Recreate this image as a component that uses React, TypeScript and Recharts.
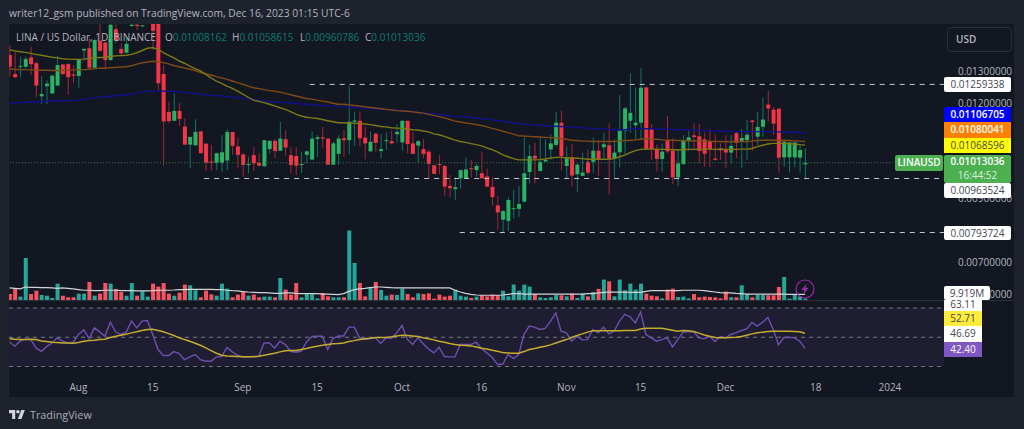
import {Bar, Cell, ComposedChart, Line, ReferenceArea, ReferenceLine, XAxis, YAxis} from "recharts"

// prices are read in hundred-thousandths of a dollar (1352 = 0.01352)
const opens = [
    1352, 1292, 1314, 1315, 1344, 1326, 1222, 1254, 1231, 1256,
    1322, 1323, 1291, 1286, 1366, 1373, 1312, 1397, 1391, 1336,
    1433, 1371, 1359, 1443, 1447, 1442, 1470, 1465, 1465, 1292,
    1173, 1145, 1176, 1127, 1070, 1068, 1112, 1073, 1017, 1013,
    1013, 1020, 1110, 1064, 1039, 1006, 1037, 1013, 1002, 1056,
    1082, 1051, 1087, 1037, 1034, 1006, 1038, 1023, 1088, 1093,
    1089, 1007, 1041, 1090, 1084, 1142, 1145, 1092, 1049, 1104,
    1050, 1082, 1081, 1103, 1077, 1145, 1074, 1067, 1056, 1048,
    1005, 1009, 1003, 940, 930, 964, 965, 996, 990, 980,
    970, 937, 879, 834, 830, 867, 868, 891, 984, 1035,
    987, 1017, 1055, 1069, 1139, 1003, 1030, 977, 972, 1016,
    1016, 1051, 1062, 1068, 1026, 1046, 1114, 1145, 1131, 1139,
    1250, 1119, 1056, 1025, 1083, 1051, 967, 1009, 1081, 1099,
    1096, 1087, 1081, 1026, 1059, 1056, 1045, 1106, 1081, 1084,
    1146, 1095, 1126, 1196, 1180, 1183, 1030, 1030, 1030, 1029,
    1008.162,
]
const closes = [
    1315, 1282, 1317, 1339, 1323, 1256, 1229, 1262, 1287, 1320,
    1292, 1282, 1287, 1339, 1371, 1312, 1399, 1365, 1336, 1447,
    1399, 1357, 1387, 1447, 1443, 1445, 1490, 1428, 1263, 1143,
    1144, 1176, 1151, 1070, 1094, 1110, 1043, 1013, 1013, 1043,
    1046, 1110, 1066, 1038, 1006, 1009, 1011, 1004, 1084, 1082,
    1050, 1089, 1061, 1006, 1004, 1009, 1049, 1089, 1093, 1089,
    1007, 1074, 1089, 1084, 1142, 1146, 1090, 1074, 1079, 1076,
    1056, 1084, 1074, 1110, 1145, 1072, 1041, 1081, 1041, 1009,
    978, 1006, 938, 933, 936, 990, 992, 993, 1003, 964,
    938, 905, 857, 861, 896, 870, 883, 980, 1034, 1026,
    1016, 1022, 1074, 1139, 1034, 1027, 973, 1007, 982, 982,
    1051, 1025, 1071, 1026, 1045, 1114, 1184, 1170, 1139, 1249,
    1055, 1056, 1025, 1048, 1049, 967, 1011, 1084, 1093, 1094,
    1050, 1041, 1055, 1022, 1052, 1045, 1066, 1075, 1091, 1101,
    1141, 1126, 1149, 1184, 1136, 1029, 1079, 1077, 1077, 1053,
    1013.036,
]
const highs = [
    1383, 1362, 1347, 1347, 1378, 1331, 1286, 1273, 1289, 1349,
    1323, 1326, 1320, 1341, 1373, 1404, 1404, 1449, 1392, 1449,
    1449, 1389, 1410, 1449, 1449, 1446, 1500, 1480, 1480, 1320,
    1205, 1231, 1202, 1153, 1095, 1150, 1113, 1074, 1069, 1044,
    1100, 1119, 1110, 1093, 1043, 1032, 1062, 1043, 1085, 1083,
    1087, 1142, 1116, 1062, 1062, 1048, 1051, 1111, 1100, 1125,
    1090, 1079, 1100, 1116, 1254, 1174, 1174, 1126, 1111, 1108,
    1103, 1108, 1114, 1135, 1147, 1145, 1108, 1084, 1087, 1053,
    1006, 1037, 1005, 974, 967, 990, 1029, 1022, 1011, 1047,
    995, 967, 909, 864, 904, 929, 940, 1093, 1069, 1076,
    1093, 1087, 1103, 1174, 1177, 1064, 1072, 1011, 1045, 1055,
    1093, 1084, 1108, 1137, 1087, 1226, 1189, 1294, 1250, 1312,
    1252, 1135, 1071, 1074, 1160, 1090, 1055, 1100, 1113, 1137,
    1135, 1108, 1118, 1102, 1074, 1100, 1100, 1111, 1119, 1149,
    1147, 1174, 1218, 1239, 1189, 1184, 1087, 1079, 1079, 1069,
    1058.615,
]
const lows = [
    1284, 1279, 1282, 1310, 1289, 1219, 1198, 1197, 1229, 1254,
    1289, 1227, 1263, 1247, 1334, 1305, 1311, 1362, 1308, 1334,
    1389, 1347, 1357, 1441, 1431, 1441, 1455, 1368, 1242, 1004,
    1137, 1145, 1129, 1069, 996, 1067, 1043, 987, 990, 990,
    985, 990, 1038, 996, 969, 980, 987, 1001, 1001, 1043,
    1027, 1051, 1034, 980, 975, 980, 1011, 1022, 1032, 1059,
    1006, 1006, 1006, 1032, 1039, 1066, 1064, 1024, 1048, 1048,
    1026, 1053, 1071, 1076, 1051, 1043, 1040, 1011, 1027, 964,
    978, 978, 908, 904, 896, 933, 964, 967, 969, 964,
    938, 878, 802, 794, 798, 838, 843, 887, 948, 948,
    986, 1016, 1022, 1064, 990, 964, 940, 922, 971, 974,
    982, 971, 1026, 912, 964, 999, 1037, 1108, 1087, 1084,
    1053, 1022, 985, 985, 1043, 946, 940, 1006, 1051, 1053,
    1011, 1001, 999, 1020, 1022, 995, 1011, 1027, 995, 1022,
    1051, 1069, 1095, 1142, 1100, 982, 1001, 982, 999, 982,
    960.786,
]
const maFast = [
    1368, 1365, 1362, 1360, 1357, 1354, 1351, 1348, 1345, 1343,
    1340, 1339, 1338, 1338, 1339, 1341, 1343, 1344, 1345, 1347,
    1349, 1350, 1351, 1354, 1359, 1366, 1373, 1375, 1370, 1359,
    1351, 1343, 1333, 1326, 1317, 1309, 1302, 1291, 1280, 1270,
    1263, 1254, 1247, 1238, 1229, 1219, 1210, 1206, 1202, 1197,
    1192, 1186, 1181, 1174, 1166, 1160, 1156, 1154, 1152, 1149,
    1145, 1142, 1139, 1139, 1138, 1137, 1137, 1135, 1133, 1130,
    1127, 1126, 1123, 1122, 1121, 1119, 1117, 1116, 1113, 1110,
    1104, 1101, 1096, 1090, 1084, 1080, 1077, 1073, 1070, 1066,
    1060, 1054, 1047, 1038, 1032, 1026, 1022, 1022, 1022, 1022,
    1023, 1025, 1028, 1030, 1030, 1029, 1028, 1027, 1026, 1024,
    1024, 1024, 1024, 1024, 1026, 1032, 1037, 1045, 1051, 1055,
    1056, 1056, 1056, 1055, 1055, 1054, 1054, 1054, 1055, 1055,
    1055, 1056, 1056, 1055, 1055, 1055, 1055, 1055, 1056, 1056,
    1058, 1064, 1068, 1072, 1074, 1074, 1074, 1073, 1072, 1070,
    1068.596,
]
const maMid = [
    1308, 1307, 1306, 1306, 1305, 1305, 1304, 1304, 1303, 1303,
    1304, 1304, 1305, 1305, 1306, 1307, 1309, 1310, 1311, 1312,
    1313, 1314, 1315, 1318, 1323, 1327, 1330, 1332, 1331, 1328,
    1324, 1319, 1315, 1311, 1307, 1303, 1297, 1293, 1289, 1284,
    1280, 1275, 1270, 1265, 1260, 1254, 1249, 1246, 1243, 1240,
    1238, 1235, 1231, 1227, 1223, 1219, 1215, 1213, 1210, 1207,
    1204, 1200, 1197, 1197, 1195, 1193, 1191, 1189, 1187, 1185,
    1183, 1181, 1179, 1177, 1176, 1175, 1173, 1171, 1169, 1165,
    1162, 1158, 1154, 1149, 1144, 1141, 1138, 1136, 1133, 1130,
    1126, 1121, 1117, 1112, 1108, 1103, 1098, 1097, 1096, 1095,
    1094, 1093, 1092, 1091, 1089, 1087, 1084, 1083, 1081, 1081,
    1080, 1080, 1080, 1080, 1080, 1081, 1083, 1083, 1085, 1087,
    1088, 1087, 1087, 1085, 1084, 1084, 1083, 1083, 1082, 1082,
    1081, 1081, 1080, 1080, 1080, 1079, 1079, 1079, 1080, 1080,
    1081, 1083, 1084, 1084, 1084, 1084, 1083, 1083, 1082, 1081,
    1080.041,
]
const maSlow = [
    1200, 1201, 1202, 1203, 1204, 1204, 1205, 1206, 1207, 1207,
    1208, 1208, 1209, 1210, 1213, 1215, 1217, 1219, 1220, 1222,
    1224, 1225, 1226, 1229, 1232, 1236, 1238, 1239, 1239, 1238,
    1238, 1237, 1236, 1235, 1232, 1231, 1229, 1227, 1225, 1224,
    1223, 1221, 1220, 1218, 1216, 1214, 1212, 1209, 1207, 1205,
    1204, 1203, 1202, 1201, 1200, 1198, 1197, 1196, 1194, 1193,
    1192, 1191, 1190, 1188, 1188, 1187, 1186, 1185, 1184, 1182,
    1181, 1180, 1179, 1178, 1176, 1175, 1174, 1171, 1170, 1168,
    1167, 1165, 1163, 1161, 1159, 1158, 1157, 1156, 1154, 1153,
    1150, 1148, 1146, 1144, 1141, 1138, 1136, 1134, 1133, 1132,
    1131, 1130, 1128, 1128, 1127, 1126, 1125, 1124, 1123, 1122,
    1121, 1120, 1119, 1118, 1117, 1117, 1117, 1119, 1120, 1121,
    1120, 1120, 1119, 1119, 1118, 1118, 1117, 1117, 1116, 1116,
    1115, 1114, 1114, 1113, 1113, 1112, 1112, 1111, 1111, 1111,
    1111, 1111, 1111, 1111, 1111, 1110, 1110, 1109, 1109, 1108,
    1106.705,
]
// volume in millions
const volumes = [
    44, 84, 25, 311, 44, 69, 37, 32, 15, 121,
    32, 20, 20, 47, 47, 133, 32, 47, 126, 121,
    82, 59, 32, 126, 32, 64, 25, 121, 99, 126,
    47, 32, 54, 114, 109, 72, 20, 69, 42, 32,
    121, 84, 20, 40, 64, 32, 40, 20, 25, 25,
    20, 163, 77, 40, 126, 20, 44, 44, 12, 52,
    27, 20, 20, 20, 514, 274, 126, 27, 96, 133,
    74, 32, 40, 37, 84, 44, 20, 49, 44, 49,
    10, 40, 25, 32, 77, 32, 25, 15, 25, 35,
    27, 40, 35, 69, 27, 114, 69, 114, 99, 44,
    20, 15, 20, 37, 35, 27, 47, 15, 47, 27,
    59, 82, 151, 138, 27, 151, 72, 121, 77, 121,
    47, 32, 27, 12, 77, 84, 22, 25, 12, 44,
    20, 25, 22, 20, 12, 62, 20, 20, 109, 44,
    20, 37, 37, 35, 35, 96, 170, 10, 44, 25,
    9.919,
]
const volumeMa = [
    89, 86, 82, 96, 94, 94, 91, 91, 89, 86,
    89, 86, 82, 77, 72, 72, 69, 69, 72, 72,
    72, 69, 69, 69, 67, 67, 67, 69, 72, 72,
    72, 74, 77, 77, 79, 79, 79, 79, 79, 77,
    77, 72, 69, 67, 62, 59, 57, 54, 54, 52,
    49, 49, 52, 52, 49, 47, 47, 47, 47, 44,
    44, 42, 40, 47, 64, 77, 82, 86, 91, 96,
    96, 94, 91, 89, 89, 89, 89, 89, 89, 89,
    89, 89, 89, 89, 72, 59, 49, 42, 37, 35,
    35, 35, 35, 37, 42, 47, 47, 44, 44, 44,
    44, 44, 44, 44, 44, 44, 44, 44, 44, 47,
    47, 52, 57, 59, 59, 59, 59, 57, 57, 57,
    64, 69, 69, 69, 69, 69, 69, 72, 72, 72,
    72, 69, 64, 59, 54, 52, 52, 49, 47, 44,
    44, 44, 44, 44, 44, 44, 44, 42, 42, 42,
    42,
]
const rsi = [
    46.8, 43.9, 47.3, 48.7, 48.4, 42.7, 40.4, 43.6, 46.1, 49.6,
    47.3, 46.1, 46.6, 51.9, 55.0, 49.1, 56.4, 53.7, 50.7, 60.3,
    53.7, 51.9, 53.5, 61.0, 56.4, 61.0, 61.4, 51.9, 41.6, 37.5,
    37.5, 40.2, 38.8, 34.7, 36.6, 38.2, 34.7, 33.6, 33.6, 36.6,
    36.8, 43.0, 40.0, 37.7, 36.6, 36.6, 36.8, 37.0, 46.1, 46.1,
    42.7, 47.3, 45.0, 40.4, 39.8, 40.4, 46.8, 50.5, 50.7, 50.7,
    41.6, 49.1, 50.9, 50.9, 56.9, 56.9, 49.6, 48.4, 49.1, 49.6,
    45.7, 49.6, 49.1, 53.0, 58.0, 48.7, 45.0, 49.6, 45.5, 42.0,
    39.3, 43.2, 36.8, 36.6, 36.6, 45.0, 45.0, 45.0, 46.6, 42.3,
    39.3, 36.3, 31.5, 31.5, 38.2, 35.4, 38.2, 51.9, 57.6, 56.9,
    55.3, 56.0, 61.0, 66.7, 54.1, 53.0, 47.3, 50.7, 48.2, 48.4,
    55.3, 53.0, 56.9, 52.3, 54.1, 61.0, 65.6, 64.0, 59.8, 67.2,
    51.9, 49.6, 47.3, 48.4, 49.6, 43.4, 48.4, 53.5, 53.7, 53.7,
    49.6, 48.9, 50.7, 47.1, 50.5, 49.6, 51.9, 53.2, 54.6, 55.7,
    60.1, 57.6, 60.3, 63.5, 55.3, 44.8, 49.8, 50.0, 49.6, 47.3,
    42.4,
]
const rsiMa = [
    48.9, 48.7, 48.4, 48.4, 48.7, 48.4, 47.5, 47.1, 46.6, 46.4,
    46.1, 46.1, 45.9, 46.4, 47.3, 47.7, 48.0, 48.4, 48.7, 49.8,
    50.7, 51.4, 52.1, 53.0, 53.7, 54.6, 55.3, 55.5, 54.6, 53.7,
    52.5, 51.2, 49.6, 48.4, 47.3, 45.9, 44.5, 42.7, 40.9, 39.1,
    37.7, 37.2, 37.0, 36.8, 36.6, 36.6, 36.6, 37.0, 37.7, 38.4,
    39.1, 40.0, 40.7, 40.9, 40.9, 41.6, 42.3, 43.2, 43.9, 44.5,
    45.0, 45.5, 45.7, 46.1, 47.1, 47.7, 48.4, 48.9, 49.3, 49.8,
    49.8, 49.8, 50.3, 50.9, 51.4, 51.2, 50.9, 50.5, 49.6, 48.9,
    48.2, 47.3, 46.6, 45.7, 45.0, 44.5, 44.3, 44.1, 43.4, 42.5,
    42.0, 41.1, 40.4, 39.5, 39.3, 39.1, 39.1, 40.2, 41.6, 42.3,
    43.2, 43.9, 44.8, 46.1, 47.3, 48.4, 49.8, 51.2, 52.3, 53.5,
    54.4, 54.4, 54.4, 54.4, 54.4, 54.4, 54.6, 54.6, 54.6, 55.7,
    56.2, 56.2, 56.2, 56.2, 55.5, 54.8, 54.1, 54.6, 54.4, 53.9,
    52.8, 51.6, 50.7, 49.8, 49.6, 49.6, 49.8, 50.0, 50.5, 51.4,
    52.3, 53.0, 53.5, 53.9, 54.1, 54.1, 54.1, 54.1, 53.9, 53.7,
    52.71,
]

// bar 0 is Jul 19
const timeTickBars = [13, 27, 44, 58, 74, 89, 105, 119, 135, 152, 166]
const timeTickLabels = ["Aug", "15", "Sep", "15", "Oct", "16", "Nov", "15", "Dec", "18", "2024"]
const priceTicks = [0.013, 0.012, 0.009, 0.007, 0.006]
const supportLines = [
    { price: 0.01259338, fromBar: 56.6 },
    { price: 0.00963524, fromBar: 36.7 },
    { price: 0.00793724, fromBar: 84.9 },
]
const lastPrice = 0.01013036
const rsiLevels = [70, 50, 30]

const rows = opens.map((open, i) => ({
    bar: i,
    open: open / 1e5,
    close: closes[i] / 1e5,
    high: highs[i] / 1e5,
    low: lows[i] / 1e5,
    range: [lows[i] / 1e5, highs[i] / 1e5],
    maFast: maFast[i] / 1e5,
    maMid: maMid[i] / 1e5,
    maSlow: maSlow[i] / 1e5,
    volume: volumes[i],
    volumeMa: volumeMa[i],
    rsi: rsi[i],
    rsiMa: rsiMa[i],
}))

const WIDTH = 1024
const FONT = "'Open Sans', sans-serif"
const xDomain = [-0.094, 176.2]

function Candle(props: any) {
    const { x, y, width, height, payload } = props
    const up = payload.close >= payload.open
    const perUnit = height / (payload.high - payload.low)
    const bodyTop = y + (payload.high - Math.max(payload.open, payload.close)) * perUnit
    const bodyHeight = Math.max(Math.abs(payload.open - payload.close) * perUnit, 1)
    return (
        <g>
            <rect x={x + width / 2 - 0.5} y={y} width={1} height={height} fill={up ? "#0e7565" : "#a42537"} />
            <rect x={x} y={bodyTop} width={width} height={bodyHeight} fill={up ? "#2bb265" : "#f23645"} />
        </g>
    )
}

function Tag({ top, height, left = 944, width = 67, bg = "#fff", color = "#434651", bold = false, radius = 2, lineHeight, children }: any) {
    return (
        <div style={{
            position: "absolute", left, top, width, height, background: bg, color, borderRadius: radius, overflow: "hidden",
            fontSize: 10, fontWeight: bold ? 600 : 400, textAlign: "center", lineHeight: (lineHeight ?? height) + "px", whiteSpace: "pre",
        }}>
            {children}
        </div>
    )
}

function LegendItem({ left, letter, value }: any) {
    return (
        <span style={{ position: "absolute", left, top: 30, fontSize: 10, color: "#b2b5be", whiteSpace: "pre" }}>
            {letter}<span style={{ color: "#0b7d6c" }}>{value}</span>
        </span>
    )
}

function PriceChart() {
    return (
        <ComposedChart width={WIDTH} height={300} data={rows} margin={{ top: 24, right: 0, bottom: 0, left: 9 }}
                       style={{ position: "absolute", left: 0, top: 0 }}>
            <XAxis dataKey="bar" type="number" domain={xDomain} allowDataOverflow hide />
            <YAxis orientation="right" width={80} domain={[0.0058145, 0.0144937]} allowDataOverflow ticks={priceTicks}
                   interval={0} axisLine={false} tickLine={false} tickMargin={8}
                   tick={{ fill: "#b2b5be", fontSize: 10, fontFamily: FONT, textAnchor: "start" }}
                   tickFormatter={(v: number) => v.toFixed(8)} />
            <ReferenceLine y={lastPrice} stroke="#2f7a3c" strokeDasharray="1 2" />
            {supportLines.map(line => (
                <ReferenceLine key={line.price} stroke="#c8c9cc" strokeDasharray="5 5"
                               segment={[{ x: line.fromBar, y: line.price }, { x: xDomain[1], y: line.price }]} />
            ))}
            <Line dataKey="maSlow" stroke="#10108c" strokeWidth={1.4} dot={false} isAnimationActive={false} />
            <Line dataKey="maMid" stroke="#7f4a16" strokeWidth={1.4} dot={false} isAnimationActive={false} />
            <Line dataKey="maFast" stroke="#7d7a14" strokeWidth={1.4} dot={false} isAnimationActive={false} />
            <Bar dataKey="range" barSize={4} shape={<Candle />} isAnimationActive={false} />
        </ComposedChart>
    )
}

function VolumeChart() {
    return (
        <ComposedChart width={WIDTH} height={300} data={rows} margin={{ top: 24, right: 80, bottom: 0, left: 9 }}
                       style={{ position: "absolute", left: 0, top: 0 }}>
            <XAxis dataKey="bar" type="number" domain={xDomain} allowDataOverflow hide />
            <YAxis domain={[0, 2042]} allowDataOverflow hide />
            <Bar dataKey="volume" barSize={4} isAnimationActive={false}>
                {rows.map(row => (
                    <Cell key={row.bar} fill={row.close >= row.open ? "#26a69a" : "#f7525f"} />
                ))}
            </Bar>
            <Line dataKey="volumeMa" stroke="#d4d4d6" strokeWidth={1.2} dot={false} isAnimationActive={false} />
        </ComposedChart>
    )
}

function RsiChart() {
    return (
        <ComposedChart width={WIDTH} height={97} data={rows} margin={{ top: 0, right: 80, bottom: 0, left: 9 }}
                       style={{ position: "absolute", left: 0, top: 300 }}>
            <XAxis dataKey="bar" type="number" domain={xDomain} allowDataOverflow height={22} ticks={timeTickBars}
                   interval={0} axisLine={false} tickLine={false} tickMargin={3}
                   tick={{ fill: "#b2b5be", fontSize: 10, fontFamily: FONT }}
                   tickFormatter={(v: number) => timeTickLabels[timeTickBars.indexOf(v)]} />
            <YAxis domain={[24.19, 75.47]} allowDataOverflow hide />
            <ReferenceArea y1={rsiLevels[2]} y2={rsiLevels[0]} fill="#7e57c2" fillOpacity={0.1} strokeWidth={0} />
            {rsiLevels.map(level => (
                <ReferenceLine key={level} y={level} stroke="#787b86" strokeDasharray="4 4" />
            ))}
            <Line dataKey="rsi" stroke="#6f4fb0" strokeWidth={1.4} dot={false} isAnimationActive={false} />
            <Line dataKey="rsiMa" stroke="#c4ad2c" strokeWidth={1.5} dot={false} isAnimationActive={false} />
        </ComposedChart>
    )
}

export default function App() {
    return (
        <div style={{ position: "absolute", left: 0, top: 0, width: WIDTH, height: 429, background: "#1e222d", overflow: "hidden", fontFamily: FONT }}>
            <div style={{ position: "absolute", left: 9, top: 24, width: 1005, height: 373, background: "#131722" }} />
            <div style={{ position: "absolute", left: 9, top: 300, width: 1005, height: 1, background: "#2a2e39" }} />
            <VolumeChart />
            <PriceChart />
            <RsiChart />

            <div style={{ position: "absolute", left: 9, top: 6, fontSize: 10.25, color: "#b2b5be", whiteSpace: "pre" }}>
                writer12_gsm published on TradingView.com, Dec 16, 2023 01:15 UTC-6
            </div>
            <LegendItem left={16} letter="LINA / US Dollar, 1D, BINANCE" value="" />
            <LegendItem left={165} letter="O" value="0.01008162" />
            <LegendItem left={232} letter="H" value="0.01058615" />
            <LegendItem left={300} letter="L" value="0.00960786" />
            <LegendItem left={365} letter="C" value="0.01013036" />

            <div style={{
                position: "absolute", left: 947, top: 27, width: 55, height: 23, border: "1px solid #2a2e39", borderRadius: 4,
                color: "#b2b5be", fontSize: 10, fontWeight: 600, lineHeight: "23px", paddingLeft: 8, boxSizing: "content-box",
            }}>USD</div>

            <Tag top={77.3} height={15}>0.01259338</Tag>
            <Tag top={107.3} height={15} bg="#0000ff" color="#fff" bold radius={0}>0.01106705</Tag>
            <Tag top={122.3} height={15.4} bg="#ff8000" color="#fff" bold radius={0}>0.01080041</Tag>
            <Tag top={137.7} height={15.3} bg="#ffff00" color="#434651" radius={0}>0.01068596</Tag>
            <Tag left={894.7} width={48.6} top={155.3} height={15.4} bg="#4caf50" color="#fff" bold>LINAUSD</Tag>
            <div style={{
                position: "absolute", left: 944, top: 155.3, width: 67, height: 27.4, background: "#4caf50", borderRadius: 2,
                color: "#fff", fontSize: 10, textAlign: "center", lineHeight: "13.7px", fontWeight: 600,
            }}>
                <div>0.01013036</div>
                <div style={{ fontWeight: 400, color: "#dff1e0" }}>16:44:52</div>
            </div>
            <Tag top={182.7} height={15.3}>0.00963524</Tag>
            <Tag top={225.7} height={14.6}>0.00793724</Tag>
            <Tag top={300} height={11} width={38} radius={0} lineHeight={9}>63.11</Tag>
            <Tag top={285.7} height={14.6} width={46}>9.919M</Tag>
            <Tag top={311} height={15.3} width={38} bg="#ffeb3b" radius={0}>52.71</Tag>
            <Tag top={326.3} height={15.4} width={38} radius={0}>46.69</Tag>
            <Tag top={341.7} height={15} width={38} bg="#7e57c2" color="#fff" radius={0}>42.40</Tag>

            <svg width={20} height={20} style={{ position: "absolute", left: 795, top: 279 }}>
                <circle cx={10} cy={10} r={9} fill="none" stroke="#9c27b0" strokeWidth={1.2} />
                <path d="M11.5 4.5 L6.5 11 H9.5 L8.5 15.5 L13.5 8.8 H10.5 Z" fill="#9c27b0" />
            </svg>

            <svg width={16} height={13} viewBox="0 0 36 28" style={{ position: "absolute", left: 9, top: 408 }}>
                <path d="M14 24H7V11H0V4h14v20zM28 24h-8l7.5-20h8L28 24z" fill="#d1d4dc" />
                <circle cx={20} cy={8} r={4} fill="#d1d4dc" />
            </svg>
            <div style={{ position: "absolute", left: 30, top: 407, fontSize: 10.8, fontWeight: 500, color: "#a9acb5", whiteSpace: "pre" }}>
                TradingView
            </div>
        </div>
    )
}
